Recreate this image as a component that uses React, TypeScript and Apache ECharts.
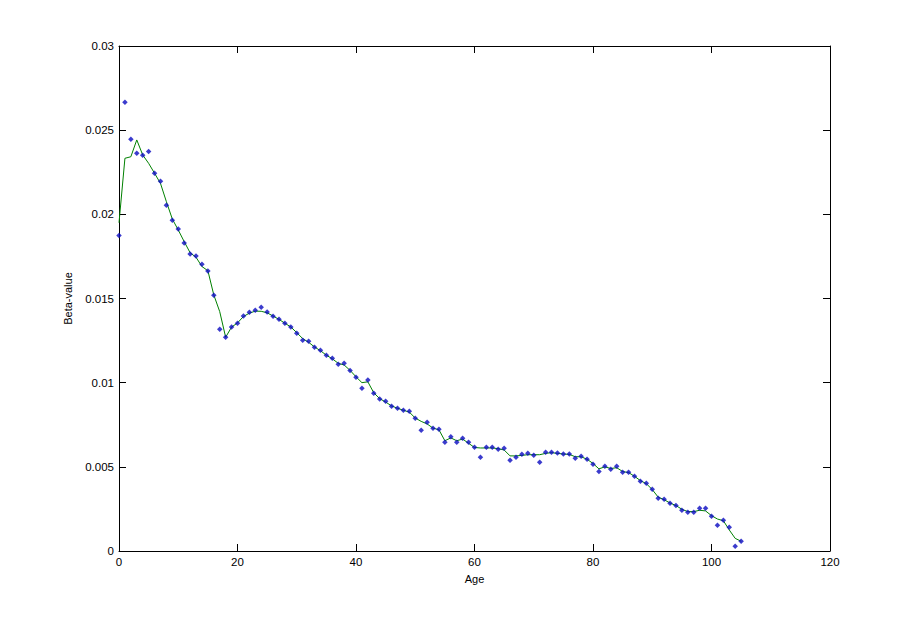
import React, { useEffect, useRef } from "react";
import * as echarts from "echarts";

const ages: number[] = [
  0, 1, 2, 3, 4, 5, 6, 7, 8, 9, 10, 11, 12, 13, 14, 15, 16, 17, 18, 19,
  20, 21, 22, 23, 24, 25, 26, 27, 28, 29, 30, 31, 32, 33, 34, 35, 36, 37, 38, 39,
  40, 41, 42, 43, 44, 45, 46, 47, 48, 49, 50, 51, 52, 53, 54, 55, 56, 57, 58, 59,
  60, 61, 62, 63, 64, 65, 66, 67, 68, 69, 70, 71, 72, 73, 74, 75, 76, 77, 78, 79,
  80, 81, 82, 83, 84, 85, 86, 87, 88, 89, 90, 91, 92, 93, 94, 95, 96, 97, 98, 99,
  100, 101, 102, 103, 104, 105,
];

const betaPoints: number[] = [
  0.01875, 0.02666, 0.02446, 0.02363, 0.02351, 0.02374, 0.02244, 0.02196, 0.02054, 0.01965,
  0.01913, 0.0183, 0.01764, 0.01753, 0.01703, 0.01663, 0.01519, 0.01317, 0.0127, 0.01331,
  0.01353, 0.01396, 0.01418, 0.0143, 0.01448, 0.0142, 0.01394, 0.01376, 0.01353, 0.01331,
  0.01293, 0.01252, 0.01246, 0.0121, 0.01192, 0.01163, 0.01145, 0.01109, 0.01115, 0.01073,
  0.01032, 0.00967, 0.01016, 0.00937, 0.00903, 0.00889, 0.0086, 0.00848, 0.00836, 0.0083,
  0.00788, 0.00717, 0.00765, 0.00729, 0.00723, 0.00646, 0.00679, 0.00646, 0.0067, 0.00646,
  0.00616, 0.00557, 0.00616, 0.00616, 0.00604, 0.0061, 0.00539, 0.00557, 0.00575, 0.00581,
  0.00569, 0.00527, 0.00586, 0.00586, 0.00582, 0.00576, 0.00576, 0.00551, 0.00563, 0.00545,
  0.00515, 0.00473, 0.00503, 0.00485, 0.00503, 0.00468, 0.00468, 0.00444, 0.00414, 0.00402,
  0.00367, 0.00313, 0.00307, 0.00283, 0.00271, 0.00242, 0.0023, 0.0023, 0.00254, 0.00254,
  0.00206, 0.00153, 0.00182, 0.00141, 0.00028, 0.00058,
];

const betaFit: number[] = [
  0.0195, 0.02333, 0.02342, 0.02442, 0.02353, 0.02303, 0.02244, 0.02184, 0.02075, 0.01972,
  0.01907, 0.01838, 0.01772, 0.01745, 0.0169, 0.01665, 0.01521, 0.01422, 0.0127, 0.0133,
  0.01355, 0.01393, 0.01413, 0.01425, 0.01424, 0.01415, 0.01396, 0.01376, 0.01353, 0.01331,
  0.01297, 0.01262, 0.0124, 0.01212, 0.0119, 0.01163, 0.01142, 0.01115, 0.01105, 0.01073,
  0.01035, 0.01, 0.01005, 0.0094, 0.00905, 0.00885, 0.00862, 0.00848, 0.00836, 0.00825,
  0.0079, 0.0077, 0.00755, 0.0073, 0.0072, 0.00655, 0.00672, 0.00655, 0.00665, 0.0064,
  0.00615, 0.00612, 0.00612, 0.00612, 0.00608, 0.006, 0.00565, 0.00565, 0.00568, 0.00572,
  0.00572, 0.00572, 0.0058, 0.00584, 0.0058, 0.00576, 0.00574, 0.0056, 0.0056, 0.00545,
  0.0052, 0.00488, 0.005, 0.0049, 0.00495, 0.00472, 0.00466, 0.00444, 0.00418, 0.004,
  0.00365, 0.0032, 0.00305, 0.00285, 0.0027, 0.00248, 0.00234, 0.00234, 0.00242, 0.00238,
  0.0021, 0.0019, 0.0018, 0.00125, 0.00075, 0.00058,
];

const xTickLabels: string[] = ["0", "20", "40", "60", "80", "100", "120"];
const yTickLabels: string[] = ["0", "0.005", "0.01", "0.015", "0.02", "0.025", "0.03"];

const FONT = "Liberation Sans, Arial, sans-serif";

export default function App() {
  const ref = useRef<HTMLDivElement>(null);

  useEffect(() => {
    if (!ref.current) return;
    const chart = echarts.init(ref.current, undefined, { renderer: "svg" });

    const axisLineStyle = { color: "#000", width: 1 };
    const xMin = Number(xTickLabels[0]);
    const xMax = Number(xTickLabels[xTickLabels.length - 1]);
    const xInt = Number(xTickLabels[1]) - Number(xTickLabels[0]);
    const yMin = Number(yTickLabels[0]);
    const yMax = Number(yTickLabels[yTickLabels.length - 1]);
    const yInt = Number(yTickLabels[1]) - Number(yTickLabels[0]);

    const baseX = {
      type: "value" as const,
      min: xMin,
      max: xMax,
      interval: xInt,
      splitLine: { show: false },
      axisLine: { show: true, onZero: false, lineStyle: axisLineStyle },
      axisTick: { show: true, inside: true, length: 7, lineStyle: axisLineStyle },
    };
    const baseY = {
      type: "value" as const,
      min: yMin,
      max: yMax,
      interval: yInt,
      splitLine: { show: false },
      axisLine: { show: true, onZero: false, lineStyle: axisLineStyle },
      axisTick: { show: true, inside: true, length: 7, lineStyle: axisLineStyle },
    };

    chart.setOption({
      animation: false,
      backgroundColor: "#fff",
      grid: { left: 119, top: 46, right: 87, bottom: 68, containLabel: false },
      xAxis: [
        {
          ...baseX,
          position: "bottom",
          name: "Age",
          nameLocation: "middle",
          nameGap: 22,
          nameTextStyle: { color: "#000", fontFamily: FONT, fontSize: 11 },
          axisLabel: {
            show: true,
            margin: 5,
            color: "#000",
            fontFamily: FONT,
            fontSize: 11.5,
            formatter: (v: number) => xTickLabels[Math.round((v - xMin) / xInt)] ?? "",
          },
        },
        { ...baseX, position: "top", axisLabel: { show: false } },
      ],
      yAxis: [
        {
          ...baseY,
          position: "left",
          name: "Beta-value",
          nameLocation: "middle",
          nameGap: 46,
          nameRotate: 90,
          nameTextStyle: { color: "#000", fontFamily: FONT, fontSize: 11 },
          axisLabel: {
            show: true,
            margin: 5,
            color: "#000",
            fontFamily: FONT,
            fontSize: 11.5,
            formatter: (v: number) => yTickLabels[Math.round((v - yMin) / yInt)] ?? "",
          },
        },
        { ...baseY, position: "right", axisLabel: { show: false } },
      ],
      series: [
        {
          type: "line",
          name: "fit",
          data: ages.map((a, i) => [a, betaFit[i]]),
          showSymbol: false,
          symbol: "none",
          lineStyle: { color: "#008000", width: 1 },
          z: 2,
        },
        {
          type: "scatter",
          name: "beta",
          data: ages.map((a, i) => [a, betaPoints[i]]),
          symbol: "diamond",
          symbolSize: 5.5,
          itemStyle: { color: "#0a0ac0" },
          z: 3,
        },
      ],
    });

    return () => chart.dispose();
  }, []);

  return (
    <div
      ref={ref}
      style={{ position: "absolute", left: 0, top: 0, width: 917, height: 619, background: "#fff" }}
    />
  );
}
